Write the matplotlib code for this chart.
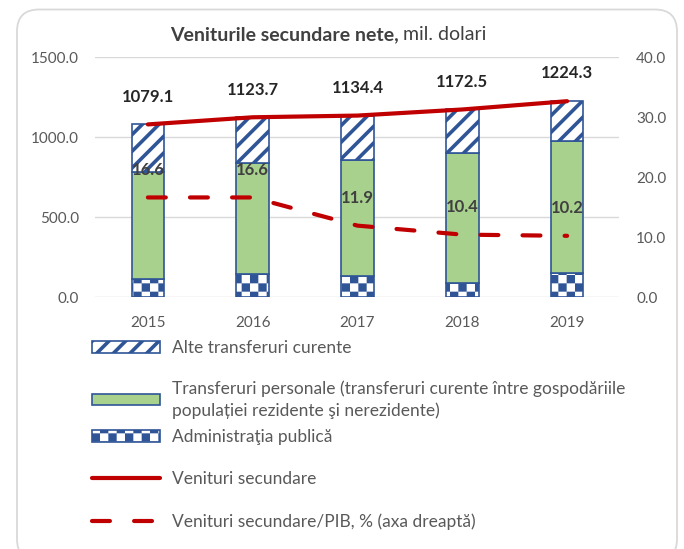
import numpy as np
import matplotlib
matplotlib.use('Agg')
import matplotlib.pyplot as plt
import matplotlib.hatch as mhatch
from matplotlib.path import Path
from matplotlib.patches import FancyBboxPatch, Patch
from matplotlib.lines import Line2D

years = ['2015', '2016', '2017', '2018', '2019']
admin = [112, 144, 131, 88, 150]          # Administraţia publică
personal = [669, 693, 725, 812, 825]      # Transferuri personale
other = [298, 287, 278, 273, 249]         # Alte transferuri curente
total = [1079.1, 1123.7, 1134.4, 1172.5, 1224.3]
pct = [16.6, 16.6, 11.9, 10.4, 10.2]      # Venituri secundare/PIB, %

blue = '#2F5597'
green = '#A9D18E'
red = '#C00000'
grey = '#595959'

plt.rcParams['font.family'] = ['Lato', 'DejaVu Sans']
plt.rcParams['hatch.linewidth'] = 2.6


class Checker(mhatch.HatchPatternBase):
    # '*' in a hatch string gives a checkerboard (like excel) instead of stars
    def __init__(self, hatch, density):
        self.n = 12 if '*' in hatch else 0
        self.num_vertices = self.n * self.n // 2 * 5

    def set_vertices_and_codes(self, vertices, codes):
        s = 1.0 / self.n
        m = 0.018  # the hatch stroke widens every square a bit
        k = 0
        for i in range(self.n):
            for j in range(self.n):
                if (i + j) % 2:
                    continue
                x0, y0 = i * s + m, j * s + m
                x1, y1 = (i + 1) * s - m, (j + 1) * s - m
                vertices[k:k + 5] = [(x0, y0), (x1, y0), (x1, y1), (x0, y1), (x0, y0)]
                codes[k:k + 5] = [Path.MOVETO, Path.LINETO, Path.LINETO,
                                  Path.LINETO, Path.CLOSEPOLY]
                k += 5


mhatch._hatch_types[-1] = Checker

fig = plt.figure(figsize=(6.84, 5.49), dpi=100)
fig.subplots_adjust(left=0.1396, right=0.9057, bottom=0.459, top=0.896)
ax = fig.add_subplot(111)

x = np.arange(len(years))
w = 0.31
bot2 = np.add(admin, personal)
ax.bar(x, admin, w, color='white', edgecolor=blue, hatch='*', lw=1.2, zorder=2)
ax.bar(x, personal, w, bottom=admin, color=green, edgecolor=blue, lw=1.2, zorder=2)
ax.bar(x, other, w, bottom=bot2, color='white', edgecolor=blue, hatch='//', lw=1.2, zorder=2)
ax.plot(x, total, color=red, lw=3, solid_capstyle='round', zorder=3)
for i in range(len(x)):
    ax.annotate(f'{total[i]:.1f}', (x[i], total[i]), xytext=(0, 20),
                textcoords='offset points', ha='center', va='center',
                fontsize=12, fontweight='bold', color='#262626')

ax.set_xlim(-0.5, 4.5)
ax.set_ylim(0, 1500)
ax.set_yticks([0, 500, 1000, 1500])
ax.set_yticklabels([f'{v:.1f}' for v in [0, 500, 1000, 1500]])
ax.set_xticks(x)
ax.set_xticklabels(years)
ax.yaxis.grid(True, color='#D9D9D9', lw=1)
ax.set_axisbelow(True)
ax.tick_params(length=0, labelsize=11, colors=grey)
ax.tick_params(axis='x', pad=14)
ax.tick_params(axis='y', pad=12)

ax2 = ax.twinx()
ax2.plot(x, pct, color=red, lw=3, dashes=(4.3, 5.8), dash_capstyle='round', zorder=3)
for i in range(len(x)):
    ax2.annotate(f'{pct[i]:.1f}', (x[i], pct[i]), xytext=(0, 20),
                 textcoords='offset points', ha='center', va='center',
                 fontsize=12, fontweight='bold', color='#404040')
ax2.set_ylim(0, 40)
ax2.set_yticks([0, 10, 20, 30, 40])
ax2.set_yticklabels([f'{v:.1f}' for v in [0, 10, 20, 30, 40]])
ax2.tick_params(length=0, labelsize=11, colors=grey, pad=12)

for a in (ax, ax2):
    for s in a.spines.values():
        s.set_visible(False)

fig.text(399 / 684, 1 - 35 / 549, 'Veniturile secundare nete,', ha='right', va='center',
         fontsize=14, fontweight='bold', color='#404040')
fig.text(403 / 684, 1 - 35 / 549, 'mil. dolari', ha='left', va='center',
         fontsize=14, color='#404040')

handles = [
    Patch(facecolor='white', edgecolor=blue, hatch='//', lw=1.2),
    Patch(facecolor=green, edgecolor=blue, lw=1.2),
    Patch(facecolor='white', edgecolor=blue, hatch='*', lw=1.2),
    Line2D([], [], color=red, lw=3, solid_capstyle='round'),
    Line2D([], [], color=red, lw=3, dashes=(4.3, 5.8), dash_capstyle='round'),
]
labels = [
    'Alte transferuri curente',
    'Transferuri personale (transferuri curente între gospodăriile\npopulației rezidente şi nerezidente)',
    'Administraţia publică',
    'Venituri secundare',
    'Venituri secundare/PIB, % (axa dreaptă)',
]
leg_kw = dict(loc='upper left', frameon=False, fontsize=12.5, labelcolor=grey,
              handlelength=3.9, handleheight=0.63, handletextpad=0.69,
              borderaxespad=0, borderpad=0)
# excel packs the two-line entry tighter, so the legend is split in two
leg1 = fig.legend(handles[:2], labels[:2], bbox_to_anchor=(92 / 684, 1 - 340 / 549),
                  labelspacing=1.38, **leg_kw)
for t in leg1.get_texts():
    t.set_linespacing(1.4)
fig.legend(handles[2:], labels[2:], bbox_to_anchor=(92 / 684, 1 - 429 / 549),
           labelspacing=1.52, **leg_kw)

border = FancyBboxPatch((17, -12), 660, 551.5, boxstyle='round,pad=0,rounding_size=22',
                        transform=None, facecolor='none', edgecolor='#D9D9D9', lw=1.3)
fig.patches.append(border)

fig.savefig('out.png', dpi=100)
